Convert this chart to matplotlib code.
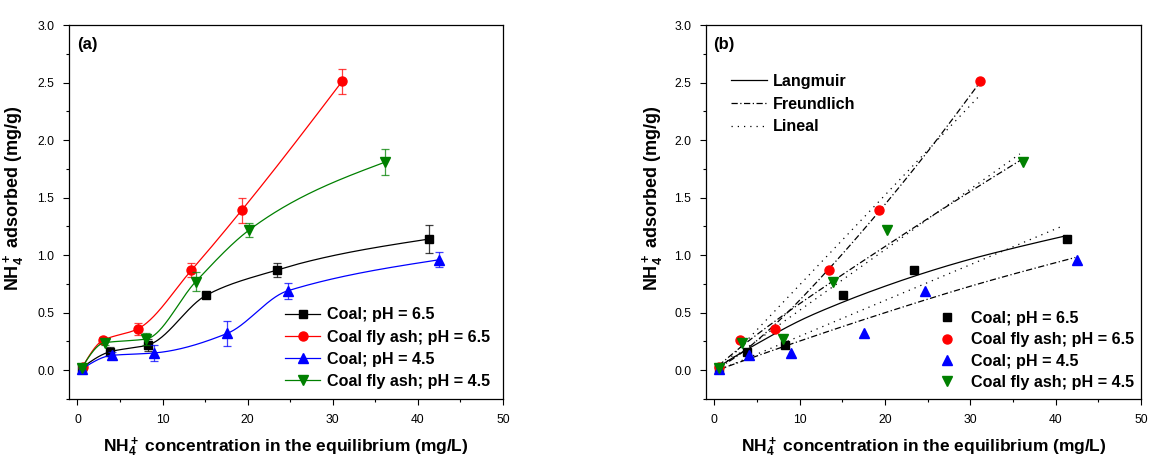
import matplotlib
matplotlib.use('Agg')
import matplotlib.pyplot as plt
from matplotlib.lines import Line2D
import numpy as np

# equilibrium concentration (mg/L) and adsorbed amount (mg/g)
coal65_x = [0.5, 3.8, 8.3, 15.1, 23.4, 41.3]
coal65_y = [0.02, 0.16, 0.22, 0.65, 0.87, 1.14]
coal65_err = [0.01, 0.04, 0.05, 0.02, 0.06, 0.12]

ash65_x = [0.6, 3.0, 7.1, 13.4, 19.3, 31.1]
ash65_y = [0.03, 0.26, 0.36, 0.87, 1.39, 2.51]
ash65_err = [0.01, 0.03, 0.05, 0.06, 0.11, 0.11]

coal45_x = [0.5, 4.1, 9.0, 17.6, 24.7, 42.5]
coal45_y = [0.01, 0.13, 0.15, 0.32, 0.69, 0.96]
coal45_err = [0.01, 0.03, 0.07, 0.11, 0.07, 0.065]

ash45_x = [0.5, 3.2, 8.0, 13.9, 20.2, 36.2]
ash45_y = [0.02, 0.24, 0.27, 0.77, 1.22, 1.81]
ash45_err = [0.01, 0.02, 0.05, 0.08, 0.06, 0.11]

labels = ['Coal; pH = 6.5', 'Coal fly ash; pH = 6.5',
          'Coal; pH = 4.5', 'Coal fly ash; pH = 4.5']

# isotherm model lines
coal65_lang_x = [0.5, 2, 5, 10, 15, 20, 25, 30, 35, 41.3]
coal65_lang_y = [0.03, 0.10, 0.23, 0.43, 0.59, 0.73, 0.855, 0.965, 1.06, 1.17]
coal65_lin_x = [0.5, 40.7]
coal65_lin_y = [0.0, 1.25]

ash65_freu_x = [0.5, 3, 7, 13.3, 19.2, 25, 31]
ash65_freu_y = [0.02, 0.14, 0.39, 0.87, 1.37, 1.90, 2.49]
ash65_lin_x = [0.5, 31]
ash65_lin_y = [0.0, 2.38]

coal45_freu_x = [0.3, 8.3, 20, 30, 42.3]
coal45_freu_y = [0.0, 0.21, 0.50, 0.73, 0.98]

ash45_freu_x = [0.5, 3, 7, 14, 20, 28, 36.2]
ash45_freu_y = [0.04, 0.195, 0.42, 0.78, 1.075, 1.46, 1.84]
ash45_lin_x = [0.5, 35.8]
ash45_lin_y = [0.02, 1.88]


def smooth(x, y, n=300, lim=2.0):
    # cubic hermite through the points, parabola tangents with a limiter
    x = np.asarray(x, float)
    y = np.asarray(y, float)
    npt = len(x)
    h = np.diff(x)
    d = np.diff(y) / h
    m = np.zeros(npt)
    for k in range(1, npt - 1):
        if d[k - 1] * d[k] > 0:
            t = (h[k] * d[k - 1] + h[k - 1] * d[k]) / (h[k - 1] + h[k])
            cap = lim * min(abs(d[k - 1]), abs(d[k]))
            m[k] = np.sign(t) * min(abs(t), cap)
    m[0] = (3 * d[0] - m[1]) / 2
    m[-1] = (3 * d[-1] - m[-2]) / 2
    if m[0] * d[0] < 0:
        m[0] = 0
    if m[-1] * d[-1] < 0:
        m[-1] = 0
    xs = np.linspace(x[0], x[-1], n)
    i = np.clip(np.searchsorted(x, xs) - 1, 0, npt - 2)
    t = (xs - x[i]) / h[i]
    ys = ((2 * t**3 - 3 * t**2 + 1) * y[i] + (t**3 - 2 * t**2 + t) * h[i] * m[i]
          + (-2 * t**3 + 3 * t**2) * y[i + 1] + (t**3 - t**2) * h[i] * m[i + 1])
    return xs, ys


plt.rcParams['font.family'] = ['Liberation Sans', 'DejaVu Sans']
plt.rcParams['mathtext.fontset'] = 'custom'
plt.rcParams['mathtext.rm'] = 'Liberation Sans:bold'
plt.rcParams['mathtext.bf'] = 'Liberation Sans:bold'
plt.rcParams['mathtext.it'] = 'Liberation Sans:bold'
plt.rcParams['xtick.labelsize'] = 8.7
plt.rcParams['ytick.labelsize'] = 8.7

series = [
    (coal65_x, coal65_y, coal65_err, 'black', 's', 5.5),
    (ash65_x, ash65_y, ash65_err, 'red', 'o', 6.5),
    (coal45_x, coal45_y, coal45_err, 'blue', '^', 6.5),
    (ash45_x, ash45_y, ash45_err, 'green', 'v', 6.5),
]

fig = plt.figure(figsize=(11.49, 4.59), dpi=100)
ax1 = fig.add_axes([0.060, 0.1307, 0.3777, 0.8148])
ax2 = fig.add_axes([0.6142, 0.1307, 0.3789, 0.8148])

xlab = 'NH$_4^+$ concentration in the equilibrium (mg/L)'
ylab = 'NH$_4^+$ adsorbed (mg/g)'

for ax, ylx in ((ax1, -0.098), (ax2, -0.094)):
    ax.set_xlim(-1, 50)
    ax.set_ylim(-0.25, 3.0)
    ax.set_xticks(np.arange(0, 51, 10))
    ax.set_xticks(np.arange(5, 50, 10), minor=True)
    ax.set_yticks(np.arange(0, 3.01, 0.5))
    ax.set_yticks(np.arange(-0.25, 3.0, 0.5), minor=True)
    ax.yaxis.set_major_formatter(matplotlib.ticker.FormatStrFormatter('%.1f'))
    ax.tick_params(which='major', direction='out', length=4.5, width=0.8, pad=6)
    ax.tick_params(which='minor', direction='out', length=2.5, width=0.8)
    for sp in ax.spines.values():
        sp.set_linewidth(0.9)
    ax.set_xlabel(xlab, fontsize=12.5, fontweight='bold', labelpad=7)
    ax.set_ylabel(ylab, fontsize=13, fontweight='bold')
    ax.yaxis.set_label_coords(ylx, 0.537)

legend_font = {'weight': 'bold', 'size': 11.6}

# ---- panel (a): data with spline connections
handles_a = []
for x, y, err, c, mk, ms in series:
    xs, ys = smooth(x, y, lim=1.5)
    ax1.plot(xs, ys, '-', color=c, linewidth=0.9)
    ax1.errorbar(x, y, yerr=err, fmt='none', ecolor=c, alpha=0.75,
                 elinewidth=0.9, capsize=3, capthick=0.9)
    ax1.plot(x, y, mk, color=c, markersize=ms, linestyle='none')
    handles_a.append(Line2D([], [], color=c, marker=mk, markersize=ms,
                            linewidth=0.9))
ax1.legend(handles_a, labels, loc='upper left', bbox_to_anchor=(0.498, 0.245),
           frameon=False, prop=legend_font,
           handlelength=2.17, handletextpad=0.42, labelspacing=0.45,
           borderpad=0, borderaxespad=0)
ax1.text(0.018, 0.949, '(a)', transform=ax1.transAxes, fontsize=12,
         fontweight='bold', va='center', ha='left')

# ---- panel (b): data with isotherm fits
dashdot = (0, (5, 2, 1, 2))
dotted = (0, (1, 4))
fits = [
    (coal65_lang_x, coal65_lang_y, '-', True),
    (coal65_lin_x, coal65_lin_y, dotted, False),
    (ash65_freu_x, ash65_freu_y, dashdot, True),
    (ash65_lin_x, ash65_lin_y, dotted, False),
    (coal45_freu_x, coal45_freu_y, dashdot, True),
    (ash45_freu_x, ash45_freu_y, dashdot, True),
    (ash45_lin_x, ash45_lin_y, dotted, False),
]
for fx, fy, ls, curved in fits:
    if curved:
        fx, fy = smooth(fx, fy, lim=3.0)
    ax2.plot(fx, fy, color='black', linestyle=ls, linewidth=0.9)

handles_b = []
for x, y, err, c, mk, ms in series:
    ax2.plot(x, y, mk, color=c, markersize=ms, linestyle='none')
    handles_b.append(Line2D([], [], color=c, marker=mk, markersize=ms,
                            linestyle='none'))
leg_models = ax2.legend(
    [Line2D([], [], color='black', linestyle='-', linewidth=0.9),
     Line2D([], [], color='black', linestyle=dashdot, linewidth=0.9),
     Line2D([], [], color='black', linestyle=dotted, linewidth=0.9)],
    ['Langmuir', 'Freundlich', 'Lineal'],
    loc='upper left', bbox_to_anchor=(0.0574, 0.869), frameon=False,
    prop=legend_font, handlelength=2.27,
    handletextpad=0.35, labelspacing=0.47, borderpad=0, borderaxespad=0)
ax2.add_artist(leg_models)
ax2.legend(handles_b, labels, loc='upper left', bbox_to_anchor=(0.535, 0.236),
           frameon=False, prop=legend_font,
           handlelength=1.0, handletextpad=1.0, labelspacing=0.40,
           borderpad=0, borderaxespad=0)
ax2.text(0.0175, 0.949, '(b)', transform=ax2.transAxes, fontsize=12,
         fontweight='bold', va='center', ha='left')

plt.savefig('out.png', dpi=100)
